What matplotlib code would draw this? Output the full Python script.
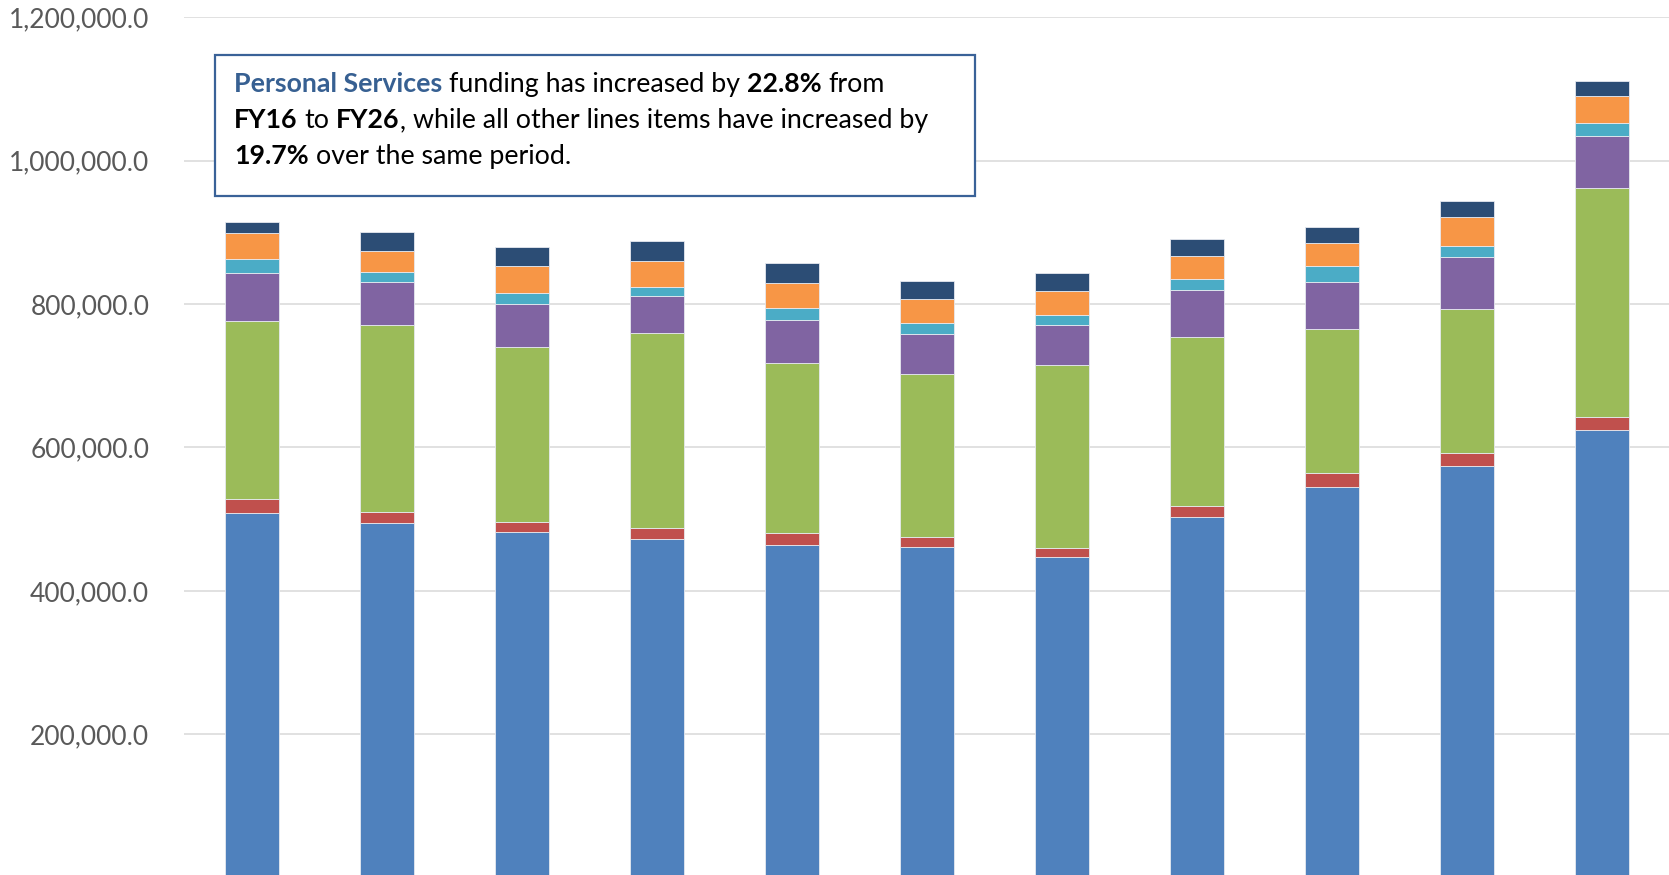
import matplotlib
matplotlib.use("Agg")
import matplotlib.pyplot as plt
import numpy as np

# ---- data ----
categories = ["FY16", "FY17", "FY18", "FY19", "FY20", "FY21", "FY22", "FY23", "FY24", "FY25", "FY26"]
personal_services = [508200, 494300, 481700, 471900, 464500, 460800, 446800, 503100, 544900, 574600, 624400]
series_red = [19500, 16200, 14800, 16200, 15800, 14800, 13500, 14900, 19300, 17300, 18600]
series_green = [248300, 259900, 243200, 271600, 238000, 226400, 254300, 236300, 200600, 201700, 318900]
series_purple = [66900, 60800, 60000, 52000, 60000, 56300, 56200, 65400, 65400, 71700, 73000]
series_teal = [20000, 14000, 15300, 12600, 16200, 15800, 14400, 14900, 22300, 15700, 18100]
series_orange = [35800, 29300, 38100, 36200, 34500, 33500, 32600, 32700, 32700, 40900, 37600]
series_navy = [16200, 25600, 26100, 27900, 27900, 25000, 25100, 23800, 22300, 22300, 20600]
yticks = [200000, 400000, 600000, 800000, 1000000, 1200000]

series = [personal_services, series_red, series_green, series_purple,
          series_teal, series_orange, series_navy]
colors = ["#4F81BD", "#C0504D", "#9BBB59", "#8064A2", "#4BACC6", "#F79646", "#2C4D75"]

W, H = 1669, 875
fig = plt.figure(figsize=(W / 100, H / 100), dpi=100)
ax = fig.add_axes([184 / W, -2.7 / H, (1669.5 - 184) / W, (877.7 - 17.3) / H])

x = np.arange(len(categories))
bottom = np.zeros(len(categories))
for vals, c in zip(series, colors):
    ax.bar(x, vals, width=0.4, bottom=bottom, color=c, edgecolor="#E6E9EF",
           linewidth=0.6, zorder=3)
    bottom += np.array(vals)

ax.set_xlim(-0.5, len(categories) - 0.5)
ax.set_ylim(0, 1200000)
ax.set_yticks(yticks)
ax.set_yticklabels([f"{v:,.1f}" for v in yticks], fontsize=19, color="#595959",
                   family="Lato")
ax.set_xticks([])
ax.tick_params(axis="y", length=0, pad=25)
ax.grid(axis="y", color="#D9D9D9", linewidth=1.1, zorder=0)
for s in ax.spines.values():
    s.set_visible(False)

# ---- annotation box ----
from matplotlib.patches import Rectangle
box = Rectangle((215 / W, 1 - 196 / H), (975 - 215) / W, (196 - 55) / H,
                transform=fig.transFigure, facecolor="white", edgecolor="#3A6298",
                linewidth=1.6, zorder=10)
fig.patches.append(box)

renderer = fig.canvas.get_renderer()
FS = 19.3
BLUE = "#376092"

def width_of(s, weight):
    t = fig.text(0, 0, s, fontsize=FS, fontweight=weight, family="Lato")
    w = t.get_window_extent(renderer).width
    t.remove()
    return w

space_w = width_of("a a", "normal") - width_of("aa", "normal")

def rich_line(x_px, y_px, parts):
    # each part: (text, weight, color, space_before)
    xx = x_px
    for s, weight, color, sp in parts:
        if sp:
            xx += space_w
        t = fig.text(xx / W, 1 - y_px / H, s, fontsize=FS, fontweight=weight,
                     color=color, family="Lato", va="baseline", ha="left", zorder=11)
        xx += t.get_window_extent(renderer).width

K = "black"
rich_line(234, 92, [("Personal Services", "bold", BLUE, False),
                    ("funding has increased by", "normal", K, True),
                    ("22.8%", "bold", K, True), ("from", "normal", K, True)])
rich_line(234, 128, [("FY16", "bold", K, False), ("to", "normal", K, True),
                     ("FY26", "bold", K, True), (",", "normal", K, False),
                     ("while all other lines items have increased by", "normal", K, True)])
rich_line(234, 164, [("19.7%", "bold", K, False),
                     ("over the same period.", "normal", K, True)])

fig.savefig("out.png", dpi=100)
